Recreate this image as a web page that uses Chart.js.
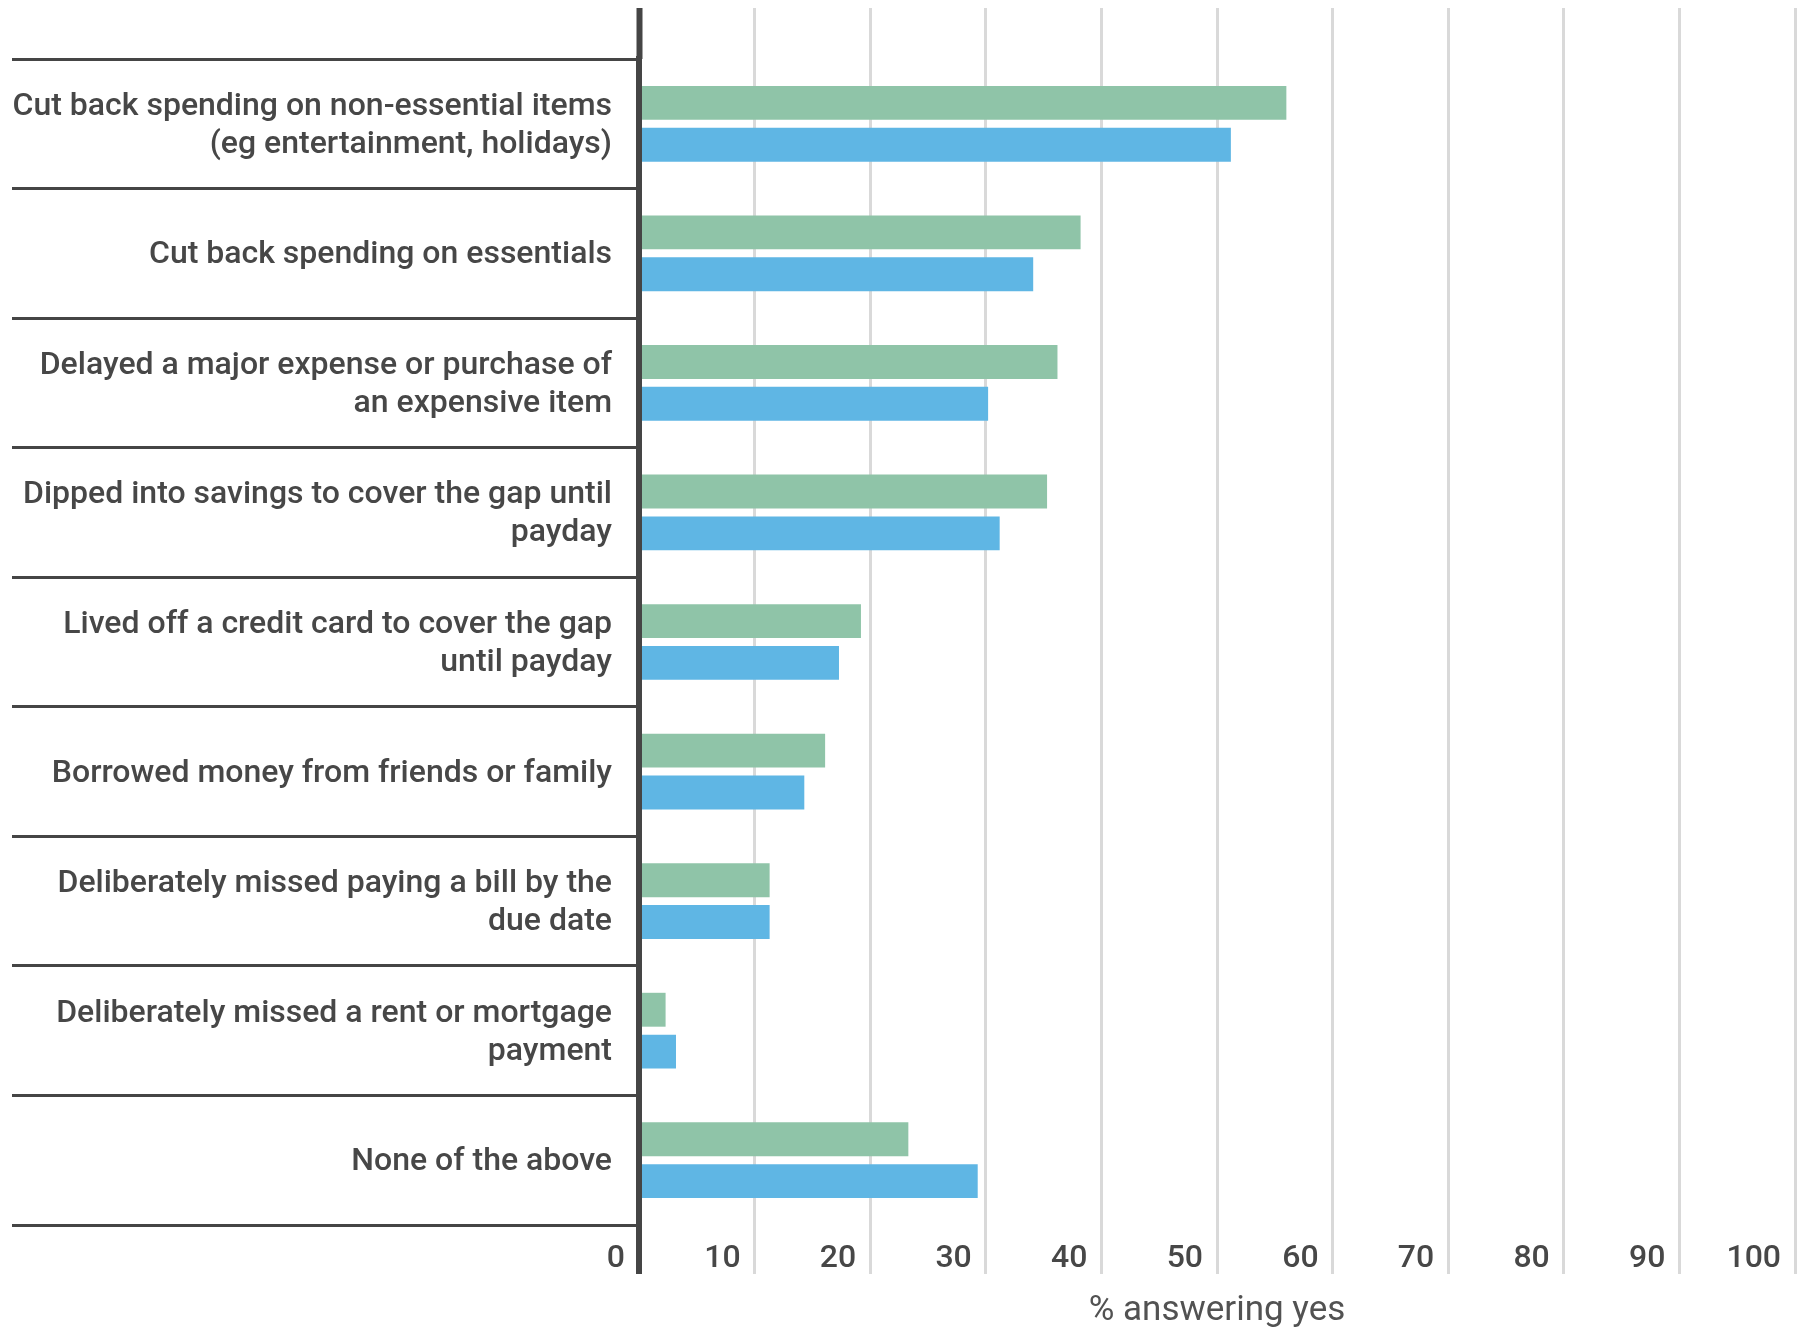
<!DOCTYPE html>
<html>
<head>
<meta charset="utf-8">
<title>% answering yes</title>
<script src="https://cdn.jsdelivr.net/npm/chart.js@4/dist/chart.umd.min.js"></script>
<style>
    html, body { margin: 0; padding: 0; background: #ffffff; }
    #wrap { width: 1805px; height: 1327px; }
</style>
</head>
<body>
<div id="wrap"><canvas id="actionsChart" width="1805" height="1327"></canvas></div>
<script>
// Kategori (label dipecah ke dua baris seperti di gambar)
const categories = [
    ['Cut back spending on non-essential items', '(eg entertainment, holidays)'],
    'Cut back spending on essentials',
    ['Delayed a major expense or purchase of', 'an expensive item'],
    ['Dipped into savings to cover the gap until', 'payday'],
    ['Lived off a credit card to cover the gap', 'until payday'],
    'Borrowed money from friends or family',
    ['Deliberately missed paying a bill by the', 'due date'],
    ['Deliberately missed a rent or mortgage', 'payment'],
    'None of the above'
];

// Nilai (% answering yes)
const greenValues = [56.0, 38.2, 36.2, 35.3, 19.2, 16.1, 11.3, 2.3, 23.3];
const blueValues = [51.2, 34.1, 30.2, 31.2, 17.3, 14.3, 11.3, 3.2, 29.3];

// Sumbu x
const xMin = 0;
const xMax = 100;
const xStep = 10;
const xTitle = '% answering yes';

const textColor = '#474747';
const axisColor = '#454545';
const gridColor = '#d9d9d9';

function gridLineColor(ctx) {
    return ctx.tick && ctx.tick.value === 0 ? axisColor : gridColor;
}

function gridLineWidth(ctx) {
    return ctx.tick && ctx.tick.value === 0 ? 6 : 3;
}

function initActionsChart() {
    const ctx = document.getElementById('actionsChart').getContext('2d');

    const chart = new Chart(ctx, {
        type: 'bar',
        data: {
            labels: categories,
            datasets: [
                {
                    label: 'Series 1',
                    data: greenValues,
                    backgroundColor: '#8fc4a8',
                    borderWidth: 0
                },
                {
                    label: 'Series 2',
                    data: blueValues,
                    backgroundColor: '#5fb6e4',
                    borderWidth: 0
                }
            ]
        },
        options: {
            indexAxis: 'y',
            responsive: false,
            animation: false,
            layout: {
                padding: { top: 8, left: 12, right: 10, bottom: 0 }
            },
            datasets: {
                bar: {
                    barPercentage: 0.81,
                    categoryPercentage: 0.646
                }
            },
            scales: {
                y: {
                    type: 'category',
                    z: 1,
                    border: {
                        display: true,
                        color: axisColor,
                        width: 6
                    },
                    grid: {
                        offset: true,
                        drawOnChartArea: false,
                        drawTicks: true,
                        tickLength: 627,
                        tickWidth: 3,
                        tickColor: axisColor
                    },
                    ticks: {
                        color: textColor,
                        padding: -600,
                        labelOffset: 2,
                        font: { family: 'Roboto', size: 32, weight: 500, lineHeight: 1.19 }
                    },
                    afterFit: function(scale) {
                        scale.width = 627;
                    }
                },
                x: {
                    type: 'linear',
                    position: 'bottom',
                    min: xMin,
                    max: xMax,
                    border: { display: false },
                    grid: {
                        color: gridLineColor,
                        lineWidth: gridLineWidth,
                        tickColor: gridLineColor,
                        tickWidth: gridLineWidth,
                        tickLength: 49
                    },
                    ticks: {
                        stepSize: xStep,
                        color: textColor,
                        align: 'end',
                        labelOffset: -14,
                        padding: -34,
                        font: { family: 'Roboto', size: 32, weight: 500, lineHeight: 1.2 }
                    },
                    title: {
                        display: true,
                        text: xTitle,
                        color: '#525252',
                        padding: { top: 0, bottom: -2 },
                        font: { family: 'Roboto', size: 35, lineHeight: 1 }
                    },
                    afterFit: function(scale) {
                        scale.height = 102;
                    }
                },
                // sumbu bantu di atas: hanya untuk garis grid yang naik ke tepi atas
                xTop: {
                    type: 'linear',
                    position: 'top',
                    display: true,
                    min: xMin,
                    max: xMax,
                    border: { display: false },
                    grid: {
                        drawOnChartArea: false,
                        tickColor: gridLineColor,
                        tickWidth: gridLineWidth,
                        tickLength: 51
                    },
                    ticks: {
                        display: false,
                        stepSize: xStep
                    }
                }
            },
            plugins: {
                legend: { display: false },
                tooltip: { enabled: false }
            }
        }
    });
}

document.addEventListener('DOMContentLoaded', function() {
    if (document.getElementById('actionsChart')) {
        initActionsChart();
    }
});
</script>
</body>
</html>
